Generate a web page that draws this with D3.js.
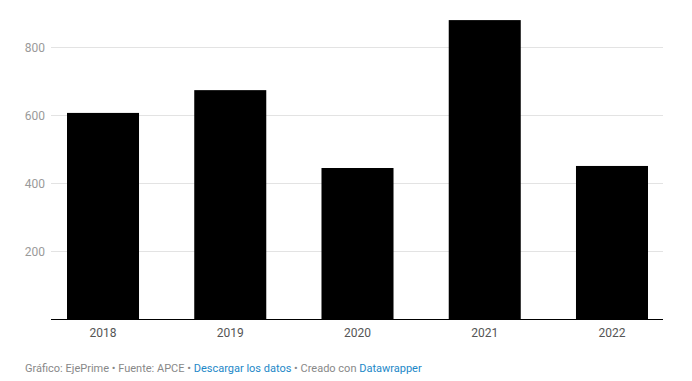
<!DOCTYPE html>
<html><head><meta charset="utf-8">
<script src="https://cdn.jsdelivr.net/npm/d3@7"></script>
<style>
body{margin:0;background:#fff;font-family:Roboto,"Noto Sans",sans-serif;}
</style></head>
<body><svg id="c" width="692" height="381"></svg>
<script>
const years = ["2018","2019","2020","2021","2022"];
const values = [607, 674, 445, 880, 451];
const yTicks = [200, 400, 600, 800];

const svg = d3.select("#c");
const y = d3.scaleLinear().domain([0, 200]).range([319.3, 251.3]);
const x = d3.scaleBand().domain(years).range([67, 648]).paddingInner(0.434).paddingOuter(0);
const gl = 51, gr = 663;

// gridlines
svg.append("g").selectAll("line").data(yTicks).join("line")
  .attr("x1", gl).attr("x2", gr)
  .attr("y1", d => Math.round(y(d)) + 0.5).attr("y2", d => Math.round(y(d)) + 0.5)
  .attr("stroke", "#e3e3e3").attr("stroke-width", 1);

svg.append("g").selectAll("text").data(yTicks).join("text")
  .attr("x", 45).attr("y", d => y(d)).attr("dy", "0.35em")
  .attr("text-anchor", "end").attr("font-size", 12).attr("fill", "#9a9a9a")
  .text(d => d);

// bars
svg.append("g").selectAll("rect").data(values).join("rect")
  .attr("x", (d, i) => x(years[i])).attr("width", x.bandwidth())
  .attr("y", d => y(d)).attr("height", d => y(0) - y(d))
  .attr("fill", "#000");

// baseline
svg.append("line").attr("x1", gl).attr("x2", gr)
  .attr("y1", 319.5).attr("y2", 319.5).attr("stroke", "#000").attr("stroke-width", 1);

// x labels
svg.append("g").selectAll("text").data(years).join("text")
  .attr("x", d => x(d) + x.bandwidth() / 2).attr("y", 337)
  .attr("text-anchor", "middle").attr("font-size", 12).attr("fill", "#555")
  .text(d => d);

// footer
const f = svg.append("text").attr("x", 25).attr("y", 372).attr("font-size", 11).attr("fill", "#888");
f.append("tspan").text("Gráfico: EjePrime • Fuente: APCE • ");
f.append("tspan").attr("fill", "#1d88c8").text("Descargar los datos");
f.append("tspan").text(" • Creado con ");
f.append("tspan").attr("fill", "#1d88c8").text("Datawrapper");
</script></body></html>
